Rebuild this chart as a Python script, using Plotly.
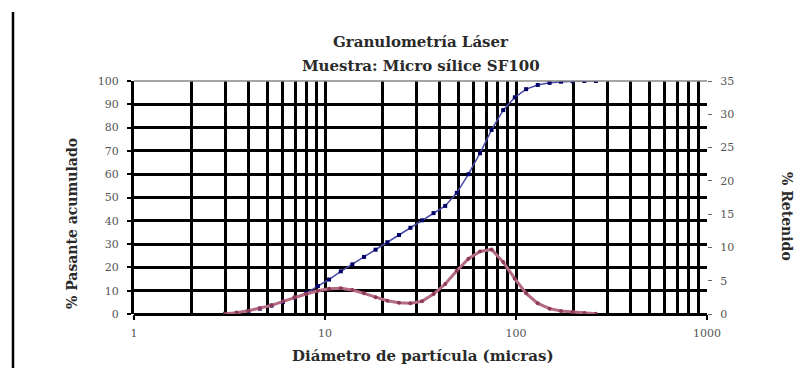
import plotly.graph_objects as go

# ---- data ----
diametro = [3.0, 3.45, 3.97, 4.56, 5.25, 6.03, 6.94, 7.98, 9.18, 10.5, 12.1, 13.9, 16.0,
            18.4, 21.2, 24.4, 28.0, 32.2, 37.0, 42.6, 49.0, 56.4, 64.8, 74.5, 85.7,
            98.6, 113, 130, 150, 172, 198, 228, 262]
pasante = [0.1, 0.5, 1.3, 2.3, 3.6, 5.2, 7.0, 9.0, 12.0, 14.8, 18.3, 21.3, 24.5,
           27.6, 30.8, 33.9, 37.0, 40.2, 43.3, 46.4, 52.0, 60.0, 69.0, 79.0, 87.5,
           93.0, 96.5, 98.3, 99.2, 99.7, 99.9, 100.0, 100.0]
retenido = [0.05, 0.2, 0.5, 0.85, 1.3, 1.9, 2.5, 3.0, 3.5, 3.8, 3.85, 3.6, 3.1,
            2.5, 2.0, 1.7, 1.6, 1.9, 3.0, 4.5, 6.5, 8.3, 9.4, 9.7, 7.8,
            5.3, 3.1, 1.6, 0.8, 0.45, 0.3, 0.15, 0.05]

x_major = [1, 10, 100, 1000]
x_major_text = ["1", "10", "100", "1000"]
x_minor = [m * d for d in (1, 10, 100) for m in range(2, 10)]
y_ticks = list(range(0, 101, 10))
y_grid = list(range(10, 100, 10))
y2_ticks = list(range(0, 36, 5))

FONT = "DejaVu Serif"
TXT = "#2a2a2a"
TICK = "#555555"

# plot-area pixel geometry (used for placing text)
L, R, T, B = 134, 707, 81, 314
PW, PH = R - L, B - T

fig = go.Figure()
fig.add_trace(go.Scatter(
    x=diametro, y=pasante, mode="lines+markers", name="% Pasante acumulado",
    line=dict(color="#4a4aa8", width=1.5),
    marker=dict(symbol="square", size=4, color="#000066"),
    yaxis="y"))
fig.add_trace(go.Scatter(
    x=diametro, y=retenido, mode="lines+markers", name="% Retenido",
    line=dict(color="#b46a82", width=3),
    marker=dict(symbol="circle", size=4, color="#8e3a58"),
    yaxis="y2"))

fig.update_layout(
    width=802, height=368,
    margin=dict(l=L, r=802 - R, t=T, b=368 - B),
    paper_bgcolor="white", plot_bgcolor="white",
    showlegend=False,
    font=dict(family=FONT, color=TICK, size=11),
    xaxis=dict(
        type="log", range=[0, 3],
        tickvals=x_major, ticktext=x_major_text,
        ticks="outside", ticklen=5, tickwidth=2, tickcolor="black",
        ticklabelstandoff=4,
        showgrid=True, gridcolor="black", gridwidth=3,
        minor=dict(tickvals=x_minor, showgrid=True, gridcolor="black", gridwidth=3, ticks=""),
        showline=False, zeroline=False,
        tickfont=dict(family=FONT, size=11, color=TICK),
    ),
    yaxis=dict(
        range=[0, 100], tickvals=y_ticks,
        ticks="outside", ticklen=4, tickwidth=2, tickcolor="black",
        ticklabelstandoff=6,
        showgrid=False,
        minor=dict(tickvals=y_grid, showgrid=True, gridcolor="black", gridwidth=3, ticks=""),
        zeroline=True, zerolinecolor="black", zerolinewidth=3,
        showline=True, linecolor="black", linewidth=3,
        tickfont=dict(family=FONT, size=11, color=TICK),
    ),
    yaxis2=dict(
        range=[0, 35], tickvals=y2_ticks, overlaying="y", side="right",
        ticks="outside", ticklen=4, tickwidth=1, tickcolor="#666666",
        ticklabelstandoff=6,
        showgrid=False, zeroline=False, showline=False,
        tickfont=dict(family=FONT, size=11, color=TICK),
    ),
)

# top border of plot area and left page rule
fig.add_shape(type="line", xref="paper", yref="paper", x0=0, x1=1, y0=1, y1=1,
              line=dict(color="#888888", width=1.5))
fig.add_shape(type="line", xref="paper", yref="paper",
              x0=(13 - L) / PW, x1=(13 - L) / PW, y0=(B - 12) / PH, y1=(B - 370) / PH,
              line=dict(color="black", width=2.5))


def px_x(x):
    return (x - L) / PW


def px_y(y):
    return (B - y) / PH


def label(text, x, y, size, angle=0):
    fig.add_annotation(text=text, xref="paper", yref="paper",
                       x=px_x(x), y=px_y(y), xanchor="center", yanchor="middle",
                       showarrow=False, textangle=angle,
                       font=dict(family=FONT, size=size, color=TXT))


label("<b>Granulometría Láser</b>", 421, 42, 15)
label("<b>Muestra: Micro sílice SF100</b>", 421, 66, 15)
label("<b>Diámetro de partícula (micras)</b>", 423, 356, 15)
label("<b>% Pasante acumulado</b>", 72, 224, 14, -90)
label("<b>% Retenido</b>", 787, 216, 14, 90)

fig.write_html("out.html",
               config={"displayModeBar": False},
               post_script="document.body.style.margin='0';document.body.style.overflow='hidden';")
